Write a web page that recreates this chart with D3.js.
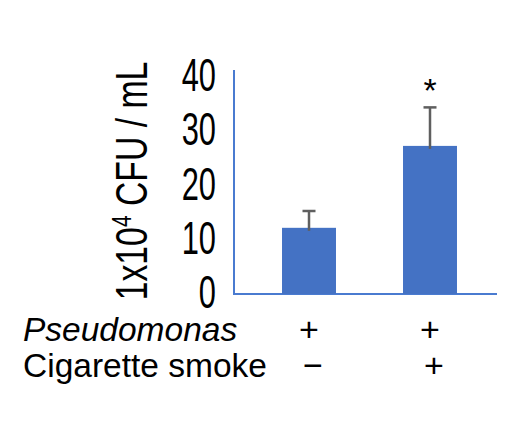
<!DOCTYPE html>
<html>
<head>
<meta charset="utf-8">
<script src="https://cdn.jsdelivr.net/npm/d3@7"></script>
<style>
  body { margin: 0; background: #fff; }
  svg { display: block; }
  text { font-family: "Liberation Sans", Arial, sans-serif; fill: #000; }
</style>
</head>
<body>
<svg width="515" height="431"></svg>
<script>
const categories = ['Pa', 'Pa + CS'];
const means = [12.2, 27.3];
const errors = [3.1, 7.1];
const yTicks = [0, 10, 20, 30, 40];
const pseudomonasSigns = ['+', '+'];
const smokeSigns = ['\u2212', '+'];
const significance = ['', '*'];

function Start(){
    const svg = d3.select('svg');
    const barColor = '#4472C4';
    const axisColor = '#4a7bd0';

    const y = d3.scaleLinear()
        .domain([0, 40])
        .range([294, 77]);

    const x = d3.scaleBand()
        .domain(categories)
        .range([248.5, 490.5])
        .paddingInner(0.554)
        .paddingOuter(0.277);

    // axes lines (Excel style, no tick marks)
    svg.append('line')
        .attr('x1', 234).attr('x2', 234)
        .attr('y1', y(0)).attr('y2', y(41.3))
        .attr('stroke', axisColor)
        .attr('stroke-width', 2);
    svg.append('line')
        .attr('x1', 233).attr('x2', 497)
        .attr('y1', y(0)).attr('y2', y(0))
        .attr('stroke', axisColor)
        .attr('stroke-width', 2);

    // tick labels, condensed
    svg.selectAll('.tick-label')
        .data(yTicks)
        .enter().append('text')
        .attr('class', 'tick-label')
        .attr('transform', d => `translate(216,${y(d) + 14}) scale(0.67,1)`)
        .attr('text-anchor', 'end')
        .attr('font-size', 46)
        .text(d => d);

    // y axis title
    const title = svg.append('text')
        .attr('transform', 'translate(147,181) rotate(-90) scale(0.75,1)')
        .attr('text-anchor', 'middle')
        .attr('font-size', 45);
    title.append('tspan').text('1x10');
    title.append('tspan').attr('font-size', 28).attr('dy', -16).text('4');
    title.append('tspan').attr('dy', 16).text(' CFU / mL');

    // bars
    svg.selectAll('.bar')
        .data(means)
        .enter().append('rect')
        .attr('class', 'bar')
        .attr('x', (d, i) => x(categories[i]))
        .attr('y', d => y(d))
        .attr('width', x.bandwidth())
        .attr('height', d => y(0) - y(d))
        .attr('fill', barColor);

    // error bars (upper only)
    const capW = 13;
    const g = svg.append('g');
    means.forEach((m, i) => {
        const cx = x(categories[i]) + x.bandwidth() / 2;
        g.append('line')
            .attr('x1', cx).attr('x2', cx)
            .attr('y1', y(m) + 3).attr('y2', y(m + errors[i]))
            .attr('stroke', '#5f5f5f').attr('stroke-width', 2.5);
        g.append('line')
            .attr('x1', cx - capW / 2).attr('x2', cx + capW / 2)
            .attr('y1', y(m + errors[i])).attr('y2', y(m + errors[i]))
            .attr('stroke', '#5f5f5f').attr('stroke-width', 2.5);
        if (significance[i]) {
            g.append('text')
                .attr('x', cx)
                .attr('y', 102)
                .attr('text-anchor', 'middle')
                .attr('font-size', 34)
                .text(significance[i]);
        }
    });

    // condition table under the chart
    svg.append('text')
        .attr('x', 23).attr('y', 341)
        .attr('font-size', 33.5)
        .attr('font-style', 'italic')
        .text('Pseudomonas');
    svg.append('text')
        .attr('x', 23).attr('y', 377)
        .attr('font-size', 33.5)
        .text('Cigarette smoke');

    svg.selectAll('.pa-sign')
        .data(pseudomonasSigns)
        .enter().append('text')
        .attr('class', 'pa-sign')
        .attr('x', (d, i) => x(categories[i]) + x.bandwidth() / 2)
        .attr('y', 341)
        .attr('text-anchor', 'middle')
        .attr('font-size', 34)
        .text(d => d);

    svg.selectAll('.cs-sign')
        .data(smokeSigns)
        .enter().append('text')
        .attr('class', 'cs-sign')
        .attr('x', (d, i) => x(categories[i]) + x.bandwidth() / 2 + 4)
        .attr('y', 377)
        .attr('text-anchor', 'middle')
        .attr('font-size', 34)
        .text(d => d);
}
Start();
</script>
</body>
</html>
